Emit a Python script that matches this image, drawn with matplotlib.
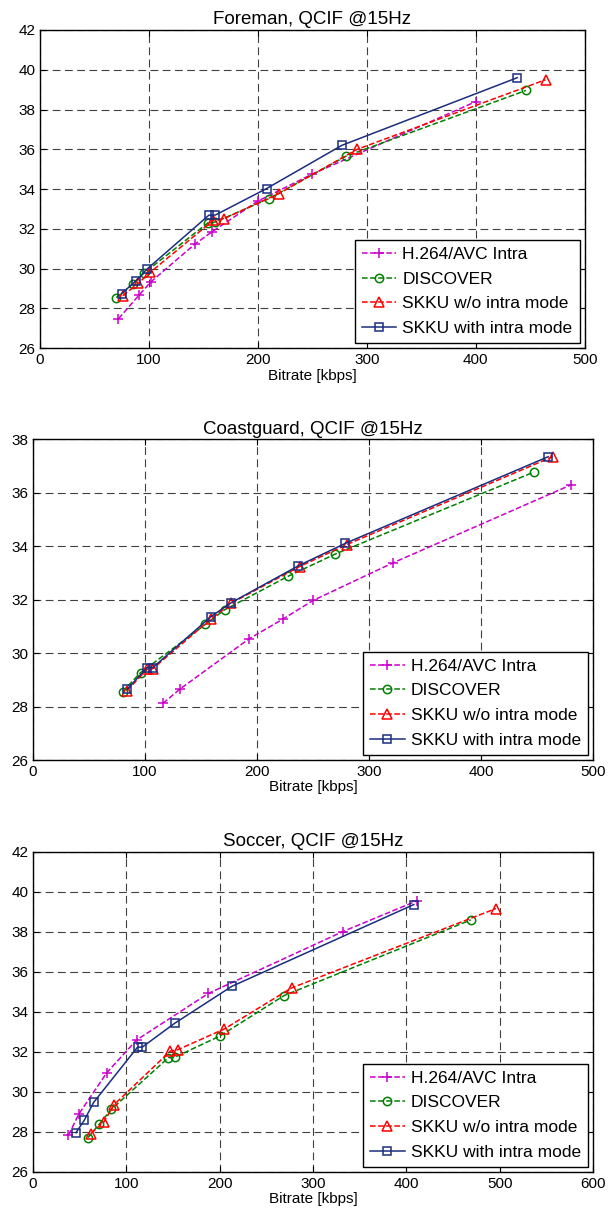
import matplotlib.pyplot as plt
import numpy as np

plt.rcParams['font.family'] = ['Liberation Sans', 'DejaVu Sans']

labels = ['H.264/AVC Intra', 'DISCOVER', 'SKKU w/o intra mode', 'SKKU with intra mode']

# Foreman
fore_h264_x = [72, 91, 102, 142, 158, 200, 250, 400]
fore_h264_y = [27.48, 28.68, 29.35, 31.23, 31.86, 33.4, 34.76, 38.4]
fore_disc_x = [70, 85, 95, 154, 161, 210, 281, 446]
fore_disc_y = [28.55, 29.22, 29.76, 32.30, 32.35, 33.52, 35.66, 38.96]
fore_wo_x = [76, 90, 101, 159, 169, 219, 291, 464]
fore_wo_y = [28.64, 29.26, 29.81, 32.43, 32.52, 33.77, 36.0, 39.5]
fore_with_x = [75, 88, 98, 155, 161, 208, 277, 438]
fore_with_y = [28.75, 29.39, 29.97, 32.69, 32.70, 34.03, 36.2, 39.6]

# Coastguard
coast_h264_x = [116, 131, 193, 223, 250, 321, 480]
coast_h264_y = [28.12, 28.65, 30.54, 31.27, 31.97, 33.37, 36.29]
coast_disc_x = [80, 96, 154, 171, 228, 270, 447]
coast_disc_y = [28.56, 29.27, 31.08, 31.62, 32.88, 33.71, 36.77]
coast_wo_x = [84, 102, 107, 159, 177, 238, 280, 464]
coast_wo_y = [28.6, 29.4, 29.42, 31.28, 31.87, 33.24, 34.06, 37.35]
coast_with_x = [84, 102, 107, 159, 177, 237, 279, 460]
coast_with_y = [28.65, 29.46, 29.46, 31.37, 31.89, 33.27, 34.11, 37.35]

# Soccer
socc_h264_x = [38, 49, 79, 111, 188, 332, 411]
socc_h264_y = [27.84, 28.89, 30.96, 32.6, 34.93, 38.02, 39.55]
socc_disc_x = [59, 71, 84, 145, 152, 200, 269, 469]
socc_disc_y = [27.72, 28.39, 29.13, 31.71, 31.74, 32.79, 34.82, 38.6]
socc_wo_x = [62, 76, 87, 147, 155, 205, 277, 496]
socc_wo_y = [27.92, 28.5, 29.37, 32.04, 32.11, 33.15, 35.2, 39.17]
socc_with_x = [46, 55, 65, 112, 117, 152, 213, 408]
socc_with_y = [27.96, 28.59, 29.48, 32.24, 32.24, 33.44, 35.28, 39.37]

styles = [
    dict(color='#cc00cc', marker='+', linestyle='--', markersize=7),
    dict(color='#008000', marker='o', linestyle='--', markersize=6, markerfacecolor='none'),
    dict(color='#ff0000', marker='^', linestyle='--', markersize=7, markerfacecolor='none'),
    dict(color='#1a2d80', marker='s', linestyle='-', markersize=6, markerfacecolor='none'),
]

panels = [
    ('Foreman, QCIF @15Hz', [0.0658, 0.7143, 0.896, 0.2611], (0, 500), (26, 42),
     [(fore_h264_x, fore_h264_y), (fore_disc_x, fore_disc_y), (fore_wo_x, fore_wo_y), (fore_with_x, fore_with_y)]),
    ('Coastguard, QCIF @15Hz', [0.0543, 0.3765, 0.921, 0.2631], (0, 500), (26, 38),
     [(coast_h264_x, coast_h264_y), (coast_disc_x, coast_disc_y), (coast_wo_x, coast_wo_y), (coast_with_x, coast_with_y)]),
    ('Soccer, QCIF @15Hz', [0.0543, 0.0386, 0.921, 0.2625], (0, 600), (26, 42),
     [(socc_h264_x, socc_h264_y), (socc_disc_x, socc_disc_y), (socc_wo_x, socc_wo_y), (socc_with_x, socc_with_y)]),
]

fig = plt.figure(figsize=(6.08, 12.19), dpi=100)

for title, rect, xlim, ylim, series in panels:
    ax = fig.add_axes(rect)
    for (x, y), lab, st in zip(series, labels, styles):
        ax.plot(x, y, label=lab, linewidth=1.1, markeredgewidth=1.1, **st)
    ax.set_xlim(*xlim)
    ax.set_ylim(*ylim)
    ax.set_xticks(np.arange(xlim[0], xlim[1] + 1, 100))
    ax.set_yticks(np.arange(ylim[0], ylim[1] + 1, 2))
    ax.grid(True, color='0.25', linestyle=(0, (7, 4)), linewidth=0.8)
    ax.tick_params(direction='in', top=True, right=True, labelsize=11, length=4)
    for s in ax.spines.values():
        s.set_linewidth(1.0)
    ax.set_title(title, fontsize=13.5, pad=4)
    ax.set_xlabel('Bitrate [kbps]', fontsize=11, labelpad=1)
    leg = ax.legend(loc='lower right', fontsize=12.5, fancybox=False, framealpha=1,
                    edgecolor='black', borderaxespad=0.3, handlelength=2.0,
                    labelspacing=0.55, handletextpad=0.35, borderpad=0.4)
    leg.get_frame().set_linewidth(1.0)

fig.savefig('out.png', dpi=100)
